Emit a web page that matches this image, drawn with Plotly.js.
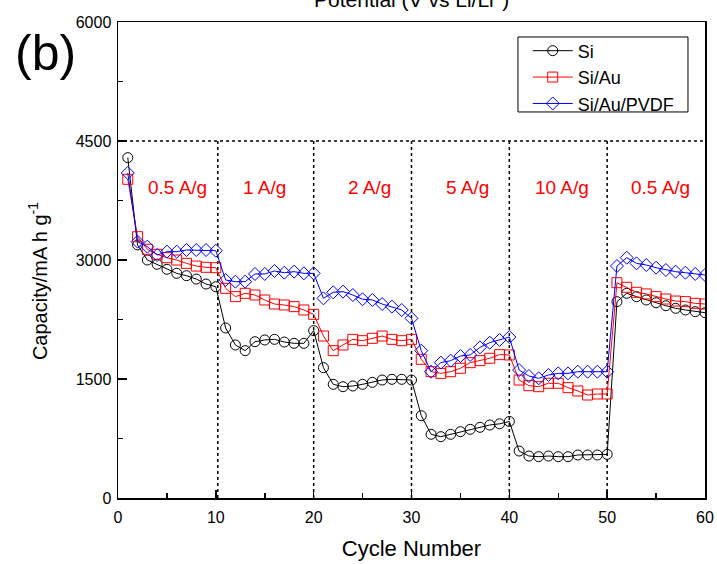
<!DOCTYPE html>
<html>
<head>
<meta charset="utf-8">
<script src="https://cdn.plot.ly/plotly-3.0.1.min.js"></script>
<style>
  html, body { margin: 0; padding: 0; background: #fff; }
  #chart { width: 717px; height: 564px; }
</style>
</head>
<body>
<div id="chart"></div>
<script>
// ---- Data ----
var cycles = [1,2,3,4,5,6,7,8,9,10,
              11,12,13,14,15,16,17,18,19,20,
              21,22,23,24,25,26,27,28,29,30,
              31,32,33,34,35,36,37,38,39,40,
              41,42,43,44,45,46,47,48,49,50,
              51,52,53,54,55,56,57,58,59,60];

var capSi = [4290, 3190, 3000, 2946, 2883, 2832, 2802, 2760, 2697, 2663,
             2143, 1929, 1857, 1970, 1992, 2000, 1966, 1950, 1950, 2110,
             1643, 1433, 1403, 1412, 1433, 1458, 1487, 1496, 1496, 1487,
             1037,  803,  773,  803,  836,  866,  891,  920,  935,  965,
              592,  529,  521,  529,  521,  521,  542,  542,  542,  550,
             2475, 2580, 2538, 2496, 2462, 2424, 2391, 2370, 2349, 2336];

var capSiAu = [4017, 3294, 3135, 3072, 3029, 3000, 2958, 2924, 2908, 2903,
               2643, 2538, 2580, 2559, 2496, 2445, 2433, 2412, 2370, 2315,
               2042, 1857, 1929, 2000, 1983, 2013, 2042, 2000, 1983, 2000,
               1748, 1592, 1571, 1592, 1635, 1706, 1731, 1761, 1807, 1803,
               1487, 1416, 1403, 1446, 1446, 1391, 1349, 1298, 1311, 1311,
               2714, 2656, 2593, 2572, 2538, 2508, 2483, 2475, 2454, 2445];

var capSiAuPVDF = [4097, 3231, 3168, 3063, 3105, 3105, 3126, 3126, 3126, 3117,
                   2748, 2727, 2727, 2824, 2824, 2861, 2840, 2853, 2832, 2832,
                   2517, 2593, 2601, 2559, 2505, 2496, 2445, 2412, 2370, 2265,
                   1857, 1592, 1706, 1731, 1790, 1803, 1899, 1958, 1992, 2029,
                   1613, 1538, 1509, 1550, 1571, 1571, 1592, 1592, 1592, 1592,
                   2924, 3029, 2958, 2937, 2903, 2874, 2853, 2840, 2824, 2811];

var seriesNames = ['Si', 'Si/Au', 'Si/Au/PVDF'];

var rateLabels = ['0.5 A/g', '1 A/g', '2 A/g', '5 A/g', '10 A/g', '0.5 A/g'];
var rateLabelX = [6.1, 15.0, 25.7, 35.7, 45.4, 55.4];
var rateLabelY = 3920;

var boundaryX = [10.2, 20, 30, 40, 50];
var boundaryTop = 4500;

var xTickVals = [0, 10, 20, 30, 40, 50, 60];
var yTickVals = [0, 1500, 3000, 4500, 6000];

// ---- Plot ----
var FONT = 'Liberation Sans, Arial, Helvetica, sans-serif';

var traces = [
  {x: cycles, y: capSi, name: seriesNames[0], mode: 'lines+markers',
   line: {color: '#000000', width: 1},
   marker: {symbol: 'circle-open', size: 10, color: '#000000', line: {width: 1, color: '#000000'}}},
  {x: cycles, y: capSiAu, name: seriesNames[1], mode: 'lines+markers',
   line: {color: '#ff0000', width: 1},
   marker: {symbol: 'square-open', size: 10, color: '#ff0000', line: {width: 1, color: '#ff0000'}}},
  {x: cycles, y: capSiAuPVDF, name: seriesNames[2], mode: 'lines+markers',
   line: {color: '#0000ff', width: 1},
   marker: {symbol: 'diamond-open', size: 10, color: '#0000ff', line: {width: 1, color: '#0000ff'}}}
];

var shapes = [{
  type: 'line', xref: 'x', yref: 'y', x0: 0, x1: 60, y0: boundaryTop, y1: boundaryTop,
  line: {color: '#000', width: 1.5, dash: 'dot'}, layer: 'below'
}];
boundaryX.forEach(function (bx) {
  shapes.push({type: 'line', xref: 'x', yref: 'y', x0: bx, x1: bx, y0: 0, y1: boundaryTop,
               line: {color: '#000', width: 1.5, dash: 'dot'}, layer: 'below'});
});
// legend frame
shapes.push({type: 'rect', xref: 'paper', yref: 'paper', x0: 0.6814, x1: 0.971, y0: 0.811, y1: 0.9685,
             line: {color: '#000', width: 1}, fillcolor: 'rgba(0,0,0,0)', layer: 'above'});

var annotations = rateLabels.map(function (t, i) {
  return {text: t, x: rateLabelX[i], y: rateLabelY, xref: 'x', yref: 'y',
          showarrow: false, font: {family: FONT, size: 19, color: '#ff0000'},
          xanchor: 'center', yanchor: 'middle'};
});
annotations.push({text: '(b)', xref: 'paper', yref: 'paper', x: -0.124, y: 0.934,
                  showarrow: false, font: {family: FONT, size: 50, color: '#000'},
                  xanchor: 'center', yanchor: 'middle'});
annotations.push({text: 'Potential (V vs Li/Li<sup>+</sup>)', xref: 'paper', yref: 'paper',
                  x: 0.5, y: 1.05, showarrow: false,
                  font: {family: FONT, size: 21, color: '#000'},
                  xanchor: 'center', yanchor: 'middle'});
annotations.push({text: 'Capacity/mA h g<sup>-1</sup>', xref: 'paper', yref: 'paper',
                  x: -0.136, y: 0.456, textangle: -90, showarrow: false,
                  font: {family: FONT, size: 20, color: '#000'},
                  xanchor: 'center', yanchor: 'middle'});

var layout = {
  width: 717, height: 564,
  margin: {l: 118, r: 12, t: 22, b: 66, pad: 0},
  paper_bgcolor: '#fff', plot_bgcolor: '#fff',
  font: {family: FONT, size: 16, color: '#000'},
  showlegend: true,
  legend: {x: 0.698, y: 0.978, xanchor: 'left', yanchor: 'top',
           bgcolor: 'rgba(255,255,255,0)', borderwidth: 0,
           itemwidth: 40,
           font: {family: FONT, size: 18, color: '#000'},
           tracegroupgap: 0},
  xaxis: {range: [0, 60], tickvals: xTickVals, ticks: 'inside', ticklen: 8, tickwidth: 1.5,
          tickcolor: '#000', showline: true, linecolor: '#000', linewidth: 1.5, mirror: true,
          showgrid: false, zeroline: false, ticklabelstandoff: 4,
          minor: {dtick: 5, ticks: 'inside', ticklen: 5, tickwidth: 1.5, tickcolor: '#000', showgrid: false},
          tickfont: {family: FONT, size: 16, color: '#000'},
          title: {text: 'Cycle Number', font: {family: FONT, size: 22, color: '#000'}, standoff: 16}},
  yaxis: {range: [0, 6000], tickvals: yTickVals, ticks: 'inside', ticklen: 9, tickwidth: 1.5,
          tickcolor: '#000', showline: true, linecolor: '#000', linewidth: 1.5, mirror: true,
          showgrid: false, zeroline: false, ticklabelstandoff: 2,
          minor: {dtick: 750, ticks: 'inside', ticklen: 5, tickwidth: 1.5, tickcolor: '#000', showgrid: false},
          tickfont: {family: FONT, size: 16, color: '#000'}},
  shapes: shapes,
  annotations: annotations
};

Plotly.newPlot('chart', traces, layout, {displayModeBar: false, staticPlot: true});
</script>
</body>
</html>
